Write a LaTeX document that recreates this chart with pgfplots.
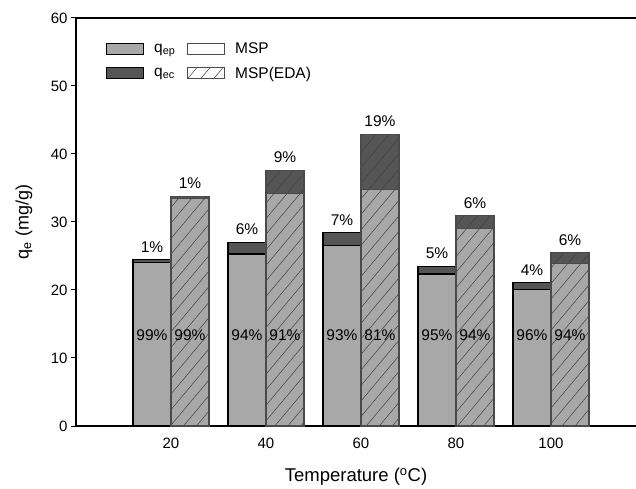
\documentclass[border=0pt]{standalone}
\usepackage{fontspec}
\setmainfont{Liberation Sans}
\usepackage{pgfplots}
\pgfplotsset{compat=1.18}
\usetikzlibrary{patterns.meta}
\definecolor{qep}{HTML}{A8A8A8}
\definecolor{qec}{HTML}{555555}
\definecolor{edaline}{HTML}{4A4A4A}

% x: bar centre, qep: q_ep value, tot: q_ep + q_ec
\pgfplotstableread{
x   qep    tot
16  24.10  24.45
36  25.30  27.00
56  26.50  28.40
76  22.35  23.50
96  20.10  21.05
}\msp
\pgfplotstableread{
x   qep    tot
24  33.40  33.80
44  34.20  37.60
64  34.80  42.90
84  29.07  30.90
104 23.90  25.50
}\eda

\tikzset{hatch/.style={postaction={pattern={Lines[angle=50,distance=10pt,line width=0.5pt]},pattern color=black!75}}}

\begin{document}
\begin{tikzpicture}[font=\fontsize{15}{18}\selectfont]
\begin{axis}[
  name=ax,
  scale only axis, width=560pt, height=408pt,
  xmin=0, xmax=117.9, ymin=0, ymax=60,
  axis x line=box, axis y line=left,
  axis line style={-, line width=1.3pt, black},
  ytick={0,10,...,60}, xtick={20,40,60,80,100},
  tick align=outside, major tick length=5pt,
  ytick style={line width=1pt, black},
  xtick style={draw=none},
  /pgf/number format/assume math mode=true,
  yticklabel style={font=\fontsize{15}{18}\selectfont},
  xticklabel style={font=\fontsize{15}{18}\selectfont, yshift=-3pt},
  xlabel={Temperature (\textsuperscript{o}C)},
  ylabel={q\textsubscript{e} (mg/g)},
  xlabel style={font=\fontsize{18.5}{21}\selectfont, at={(axis description cs:0.5,-0.125)}, anchor=center},
  ylabel style={font=\fontsize{18}{21}\selectfont, at={(axis description cs:-0.093,0.5)}, anchor=center},
  legend columns=2,
  legend cell align=left,
  legend image code/.code={\draw[#1] (0pt,-5.5pt) rectangle (37pt,5.5pt);},
  legend style={draw=none, fill=none, inner sep=0pt, at={(axis description cs:0.0536,0.945)}, anchor=north west,
    font=\fontsize{15.5}{18}\selectfont, row sep=8pt,
    /tikz/every odd column/.append style={column sep=8pt},
    /tikz/every even column/.append style={column sep=10pt}},
]
% MSP bars: total (dark) then q_ep (grey) over it
\addplot[ybar, bar width=8, bar shift=0pt, fill=qec, draw=black, line width=1.1pt, forget plot] table[x=x,y=tot] {\msp};
\addplot[ybar, bar width=8, bar shift=0pt, fill=qep, draw=black, line width=1.1pt, forget plot] table[x=x,y=qep] {\msp};
% MSP(EDA) bars, hatched
\addplot[ybar, bar width=8, bar shift=0pt, fill=qec, draw=edaline, line width=1.1pt, hatch, forget plot] table[x=x,y=tot] {\eda};
\addplot[ybar, bar width=8, bar shift=0pt, fill=qep, draw=edaline, line width=1.1pt, hatch, forget plot] table[x=x,y=qep] {\eda};

\addlegendimage{fill=qep, draw=black, line width=1pt}
\addlegendentry{q\textsubscript{ep}}
\addlegendimage{fill=white, draw=black!70, line width=0.8pt}
\addlegendentry{MSP}
\addlegendimage{fill=qec, draw=black, line width=1pt}
\addlegendentry{q\textsubscript{ec}}
\addlegendimage{fill=white, draw=black!70, line width=0.8pt, postaction={pattern={Lines[angle=50,distance=10pt,line width=0.5pt]},pattern color=black!75}}
\addlegendentry{MSP(EDA)}

% percentage labels
\begin{scope}[every node/.style={font=\fontsize{15.5}{18}\selectfont, anchor=base, inner sep=0pt}]
\node[yshift=7.5pt] at (axis cs:16,24.45) {1\%};
\node[yshift=7.5pt] at (axis cs:24,33.80) {1\%};
\node[yshift=7.5pt] at (axis cs:36,27.00) {6\%};
\node[yshift=7.5pt] at (axis cs:44,37.60) {9\%};
\node[yshift=7.5pt] at (axis cs:56,28.40) {7\%};
\node[yshift=7.5pt] at (axis cs:64,42.90) {19\%};
\node[yshift=7.5pt] at (axis cs:76,23.50) {5\%};
\node[yshift=7.5pt] at (axis cs:84,30.90) {6\%};
\node[yshift=7.5pt] at (axis cs:96,21.05) {4\%};
\node[yshift=7.5pt] at (axis cs:104,25.50) {6\%};
\node at (axis cs:16,12.5) {99\%};
\node at (axis cs:24,12.5) {99\%};
\node at (axis cs:36,12.5) {94\%};
\node at (axis cs:44,12.5) {91\%};
\node at (axis cs:56,12.5) {93\%};
\node at (axis cs:64,12.5) {81\%};
\node at (axis cs:76,12.5) {95\%};
\node at (axis cs:84,12.5) {94\%};
\node at (axis cs:96,12.5) {96\%};
\node at (axis cs:104,12.5) {94\%};
\end{scope}
\end{axis}
\pgfresetboundingbox
\path[use as bounding box] ([shift={(-76pt,-63pt)}]ax.south west) rectangle ([shift={(0pt,18pt)}]ax.north east);
\end{tikzpicture}
\end{document}
